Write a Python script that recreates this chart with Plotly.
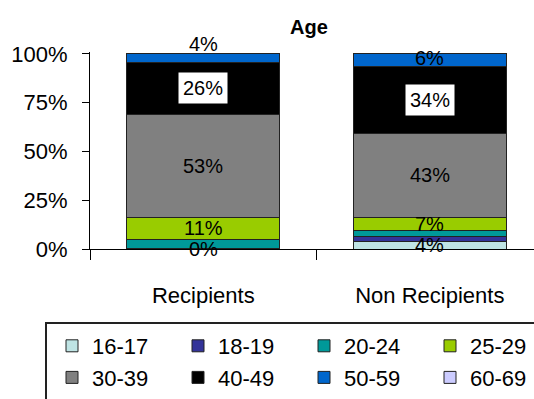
import plotly.graph_objects as go

# Share of each age band within each group (percent)
groups = ["Recipients", "Non Recipients"]
age_bands = ["16-17", "18-19", "20-24", "25-29", "30-39", "40-49", "50-59", "60-69"]
recipients = [0.4, 0.0, 4.6, 11.2, 53.0, 26.4, 4.4, 0.0]
non_recipients = [3.6, 2.8, 3.1, 6.9, 43.0, 34.4, 6.2, 0.0]
y_ticks = [0, 25, 50, 75, 100]
y_tick_labels = ["0%", "25%", "50%", "75%", "100%"]

# Age bands whose share is written on the bars
labelled_bands = ["16-17", "25-29", "30-39", "40-49", "50-59"]
boxed_bands = ["40-49"]

colors = ["#BFE4E4", "#333399", "#009999", "#99CC00",
          "#808080", "#000000", "#0066CC", "#CCCCFF"]

FONT = "Liberation Sans, Arial, sans-serif"
W, H = 534, 399
# plot area in pixels
L, R_EDGE, TOP, BOTTOM = 90, 534, 52, 249
PW, PH = R_EDGE - L, BOTTOM - TOP

fig = go.Figure()
for i, band in enumerate(age_bands):
    fig.add_trace(go.Bar(
        name=band,
        x=groups,
        y=[recipients[i], non_recipients[i]],
        marker=dict(color=colors[i], line=dict(color="#222222", width=1)),
        width=0.675,
    ))

# Value labels centred on their segments
label_nudge = {("Recipients", "50-59"): 14, ("Non Recipients", "50-59"): 2}
for g, vals in zip(groups, [recipients, non_recipients]):
    base = 0.0
    for band, v in zip(age_bands, vals):
        mid = base + v / 2
        base += v
        if band not in labelled_bands:
            continue
        boxed = band in boxed_bands
        fig.add_annotation(
            x=g, y=mid, xref="x", yref="y",
            text=f"{round(v):.0f}%", showarrow=False,
            font=dict(family=FONT, size=20, color="black"),
            bgcolor="white" if boxed else "rgba(0,0,0,0)",
            borderpad=4 if boxed else 0,
            yshift=label_nudge.get((g, band), 0),
        )

# Frame around the legend area
fig.add_shape(
    type="rect", xref="paper", yref="paper",
    x0=(46 - L) / PW, x1=1.2,
    y0=-1, y1=(BOTTOM - 323) / PH,
    line=dict(color="#222222", width=2), fillcolor="rgba(0,0,0,0)",
)

fig.update_layout(
    width=W, height=H,
    margin=dict(l=L, r=W - R_EDGE, t=TOP, b=H - BOTTOM, autoexpand=False),
    plot_bgcolor="white", paper_bgcolor="white",
    barmode="stack",
    title=dict(
        text="<b>Age</b>", xref="container", yref="container",
        x=309 / W, y=1 - 27 / H, xanchor="center", yanchor="middle",
        font=dict(family=FONT, size=20, color="black"),
    ),
    showlegend=True,
    legend=dict(
        orientation="h", xref="paper", yref="paper",
        x=(52 - L) / PW, y=(BOTTOM - 325) / PH, xanchor="left", yanchor="top",
        entrywidth=81, entrywidthmode="pixels",
        traceorder="normal",
        font=dict(family=FONT, size=22, color="black"),
        bgcolor="rgba(0,0,0,0)",
    ),
    font=dict(family=FONT, color="black"),
)

fig.update_xaxes(
    range=[-0.5, 1.46], showline=True, linecolor="black", linewidth=1,
    ticks="outside", tickson="boundaries", ticklen=10, tickcolor="black",
    showgrid=False, tickfont=dict(family=FONT, size=22, color="black"),
    ticklabelstandoff=27,
)
fig.update_yaxes(
    range=[0, 101], tickvals=y_ticks, ticktext=y_tick_labels,
    showline=True, linecolor="black", linewidth=1,
    ticks="outside", ticklen=7, tickcolor="black", showgrid=False,
    zeroline=False, tickfont=dict(family=FONT, size=22, color="black"),
    ticklabelstandoff=10,
)

fig.write_html("out.html")
